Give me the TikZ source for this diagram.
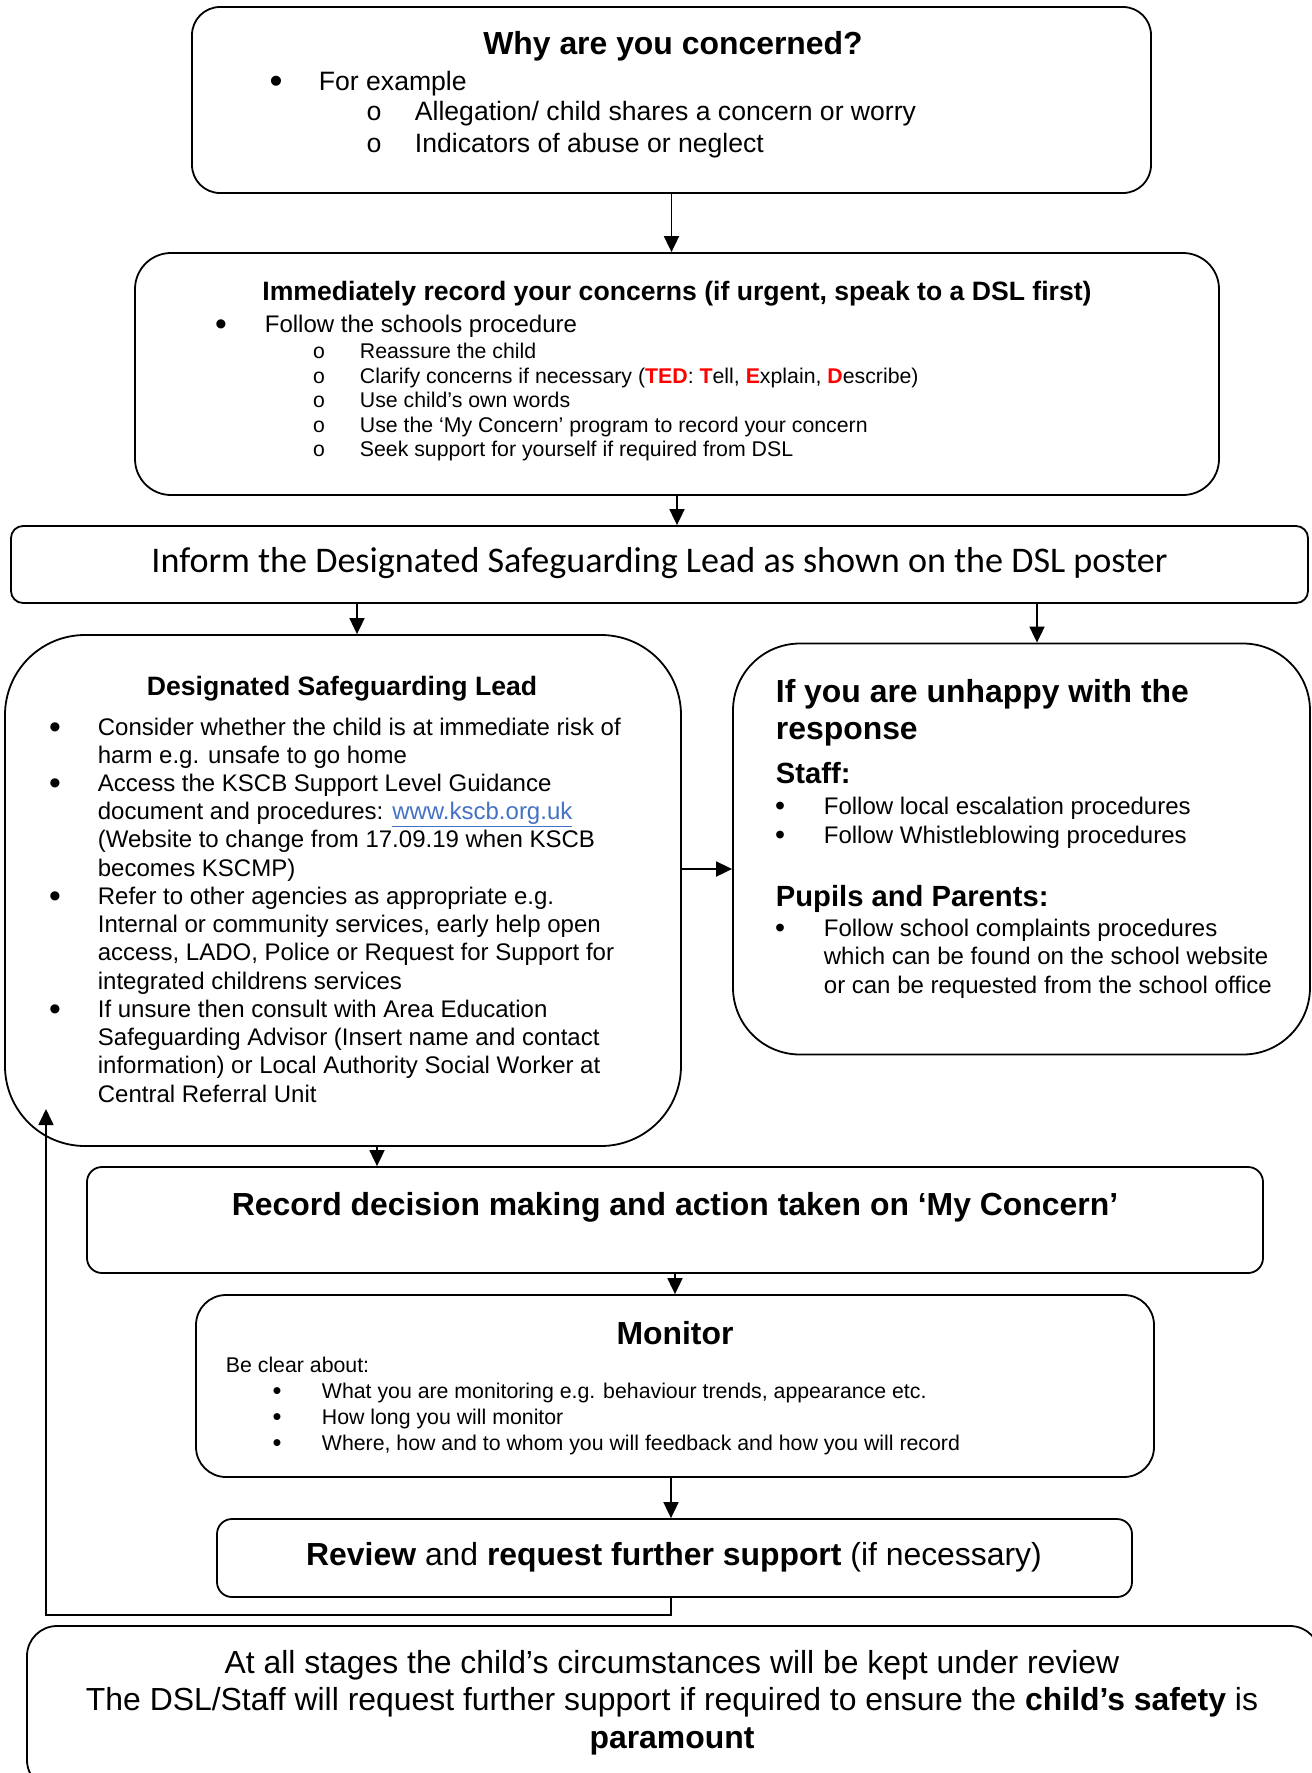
\documentclass[tikz,border=0pt]{standalone}
\usepackage{xcolor}
\usepackage{fontspec}
\setmainfont{Liberation Sans}
\newfontfamily\calibrifont{Carlito}
\newfontfamily\subofont{Liberation Mono}
\usetikzlibrary{arrows.meta}
\definecolor{tedred}{RGB}{255,0,0}
\definecolor{linkblue}{RGB}{68,114,196}

\begin{document}
\begin{tikzpicture}[x=1pt, y=-1pt, >={Triangle[length=16pt,width=15pt]}, line width=1.8pt,
  box/.style={draw, rectangle, inner sep=0pt},
  itm/.style={anchor=base west, inner sep=0pt},
  ctr/.style={anchor=base, inner sep=0pt},
  hbig/.style={font=\fontsize{31.9}{37}\selectfont\bfseries},
  rbig/.style={font=\fontsize{31.9}{37}\selectfont},
  twb/.style={font=\fontsize{26.6}{31}\selectfont\bfseries},
  tw/.style={font=\fontsize{26.6}{31}\selectfont},
  hmid/.style={font=\fontsize{29.2}{34}\selectfont\bfseries},
  el/.style={font=\fontsize{24}{28}\selectfont},
  sm/.style={font=\fontsize{21.3}{25}\selectfont},
  bulA/.style={ctr, font=\fontsize{37}{40}\selectfont, yshift=-3.6pt},
  bulB/.style={ctr, font=\fontsize{33.6}{38}\selectfont, yshift=-3.4pt},
  bulU/.style={ctr, font=\fontsize{28.5}{30}\selectfont, yshift=-1.5pt},
  bulC/.style={ctr, font=\fontsize{25.5}{27}\selectfont, yshift=-1.4pt},
  subo/.style={font=\subofont\fontsize{26.6}{31}\selectfont},
  subs/.style={font=\subofont\fontsize{21.3}{25}\selectfont}]
  \useasboundingbox (0,0) rectangle (1312,1773);
  \clip (0,0) rectangle (1312,1773);

  % boxes
  \node[box, rounded corners=28pt, minimum width=959pt, minimum height=186pt] (why) at (671.5,100) {};
  \node[box, rounded corners=36pt, minimum width=1084pt, minimum height=242pt] (record) at (677,374) {};
  \node[box, rounded corners=12pt, minimum width=1297pt, minimum height=77pt] (inform) at (659.5,564.5) {};
  \node[box, rounded corners=80pt, minimum width=676pt, minimum height=511pt] (dsl) at (343,890.5) {};
  \node[box, rounded corners=67pt, minimum width=577pt, minimum height=411pt] (unhappy) at (1021.5,849) {};
  \node[box, rounded corners=15pt, minimum width=1176pt, minimum height=106pt] (decision) at (675,1220) {};
  \node[box, rounded corners=30pt, minimum width=958pt, minimum height=182pt] (monitor) at (675,1386) {};
  \node[box, rounded corners=15pt, minimum width=915pt, minimum height=78pt] (review) at (674.5,1558) {};
  \node[box, rounded corners=30pt, minimum width=1293pt, minimum height=164pt] (stages) at (673.5,1708) {};

  % why are you concerned
  \node[hbig, ctr] (whyTitle) at (673,54) {Why are you concerned?};
  \node[bulA] (whyB1) at (276,90) {•};
  \node[tw, itm] (whyL1) at (318,90) {For example};
  \node[subo, ctr] (whyO1) at (374,120) {o};
  \node[tw, itm] (whyL2) at (414,120) {Allegation/ child shares a concern or worry};
  \node[subo, ctr] (whyO2) at (374,152) {o};
  \node[tw, itm] (whyL3) at (414,152) {Indicators of abuse or neglect};

  % record concerns
  \node[twb, ctr] (recTitle) at (677,300) {Immediately record your concerns (if urgent, speak to a DSL first)};
  \node[bulB] (recB1) at (221,332) {•};
  \node[el, itm] (recL1) at (264,332) {Follow the schools procedure};
  \node[subs, ctr] (recO1) at (319,358) {o};
  \node[sm, itm] (recL2) at (359,358) {Reassure the child};
  \node[subs, ctr] (recO2) at (319,383) {o};
  \node[sm, itm] (recL3) at (359,383) {Clarify concerns if necessary (\textcolor{tedred}{\textbf{TED}}: \textcolor{tedred}{\textbf{T}}ell, \textcolor{tedred}{\textbf{E}}xplain, \textcolor{tedred}{\textbf{D}}escribe)};
  \node[subs, ctr] (recO3) at (319,407) {o};
  \node[sm, itm] (recL4) at (359,407) {Use child’s own words};
  \node[subs, ctr] (recO4) at (319,432) {o};
  \node[sm, itm] (recL5) at (359,432) {Use the ‘My Concern’ program to record your concern};
  \node[subs, ctr] (recO5) at (319,456) {o};
  \node[sm, itm] (recL6) at (359,456) {Seek support for yourself if required from DSL};

  % inform
  \node[font=\calibrifont\fontsize{36.1}{43}\selectfont, ctr] (infText) at (659.5,572) {Inform the Designated Safeguarding Lead as shown on the DSL poster};

  % designated safeguarding lead
  \node[twb, ctr] (dslTitle) at (342,695) {Designated Safeguarding Lead};
  \node[bulB] (dslB1) at (55,735) {•};
  \node[el, itm] (dslL1) at (97,735) {Consider whether the child is at immediate risk of};
  \node[el, itm] (dslL2) at (97,763.2) {harm e.g. unsafe to go home};
  \node[bulB] (dslB2) at (55,791.5) {•};
  \node[el, itm] (dslL3) at (97,791.5) {Access the KSCB Support Level Guidance};
  \node[el, itm] (dslL4) at (97,819.7) {document and procedures: \textcolor{linkblue}{\underline{www.kscb.org.uk}}};
  \node[el, itm] (dslL5) at (97,847.9) {(Website to change from 17.09.19 when KSCB};
  \node[el, itm] (dslL6) at (97,876.2) {becomes KSCMP)};
  \node[bulB] (dslB3) at (55,904.4) {•};
  \node[el, itm] (dslL7) at (97,904.4) {Refer to other agencies as appropriate e.g.};
  \node[el, itm] (dslL8) at (97,932.6) {Internal or community services, early help open};
  \node[el, itm] (dslL9) at (97,960.8) {access, LADO, Police or Request for Support for};
  \node[el, itm] (dslL10) at (97,989.1) {integrated childrens services};
  \node[bulB] (dslB4) at (55,1017.3) {•};
  \node[el, itm] (dslL11) at (97,1017.3) {If unsure then consult with Area Education};
  \node[el, itm] (dslL12) at (97,1045.5) {Safeguarding Advisor (Insert name and contact};
  \node[el, itm] (dslL13) at (97,1073.8) {information) or Local Authority Social Worker at};
  \node[el, itm] (dslL14) at (97,1102) {Central Referral Unit};

  % unhappy with the response
  \node[hbig, itm] (unhTitle1) at (775,702) {If you are unhappy with the};
  \node[hbig, itm] (unhTitle2) at (775,739.5) {response};
  \node[hmid, itm] (unhStaff) at (775,783) {Staff:};
  \node[bulU] (unhB1) at (780,814) {•};
  \node[el, itm] (unhL1) at (823,814) {Follow local escalation procedures};
  \node[bulU] (unhB2) at (780,843) {•};
  \node[el, itm] (unhL2) at (823,843) {Follow Whistleblowing procedures};
  \node[hmid, itm] (unhPupils) at (775,906) {Pupils and Parents:};
  \node[bulU] (unhB3) at (780,936) {•};
  \node[el, itm] (unhL3) at (823,936) {Follow school complaints procedures};
  \node[el, itm] (unhL4) at (823,964.5) {which can be found on the school website};
  \node[el, itm] (unhL5) at (823,993) {or can be requested from the school office};

  % decision, monitor, review
  \node[hbig, ctr] (decText) at (675,1215) {Record decision making and action taken on ‘My Concern’};
  \node[hbig, ctr] (monTitle) at (675,1344) {Monitor};
  \node[sm, itm] (monL0) at (225,1372) {Be clear about:};
  \node[bulC] (monB1) at (277,1398) {•};
  \node[sm, itm] (monL1) at (321,1398) {What you are monitoring e.g. behaviour trends, appearance etc.};
  \node[bulC] (monB2) at (277,1424) {•};
  \node[sm, itm] (monL2) at (321,1424) {How long you will monitor};
  \node[bulC] (monB3) at (277,1450) {•};
  \node[sm, itm] (monL3) at (321,1450) {Where, how and to whom you will feedback and how you will record};
  \node[rbig, ctr] (revText) at (674,1565) {\textbf{Review} and \textbf{request further support} (if necessary)};

  % at all stages
  \node[rbig, ctr] (stgL1) at (672,1673) {At all stages the child’s circumstances will be kept under review};
  \node[rbig, ctr] (stgL2) at (672,1710) {The DSL/Staff will request further support if required to ensure the \textbf{child’s safety} is};
  \node[rbig, ctr] (stgL3) at (672,1748) {\textbf{paramount}};

  % connectors
  \coordinate (toDsl) at ([xshift=14pt]dsl.north);
  \coordinate (toUnhappy) at ([xshift=15.5pt]unhappy.north);
  \coordinate (fromDsl) at ([yshift=21.5pt]dsl.east);
  \coordinate (toDecision) at ([xshift=34pt]dsl.south);
  \coordinate (toReview) at ([xshift=-4pt]monitor.south);
  \coordinate (loopBack) at (46,1109);

  \draw[->] (why.south) -- (why.south |- record.north);
  \draw[->] (record.south) -- (record.south |- inform.north);
  \draw[->] (toDsl |- inform.south) -- (toDsl);
  \draw[->] (toUnhappy |- inform.south) -- (toUnhappy);
  \draw[->] (fromDsl) -- (fromDsl -| unhappy.west);
  \draw[->] (toDecision) -- (toDecision |- decision.north);
  \draw[->] (decision.south) -- (decision.south |- monitor.north);
  \draw[->] (toReview) -- (toReview |- review.north);
  \draw[->] (toReview |- review.south) -- ++(0,17) -| (loopBack);
\end{tikzpicture}
\end{document}
